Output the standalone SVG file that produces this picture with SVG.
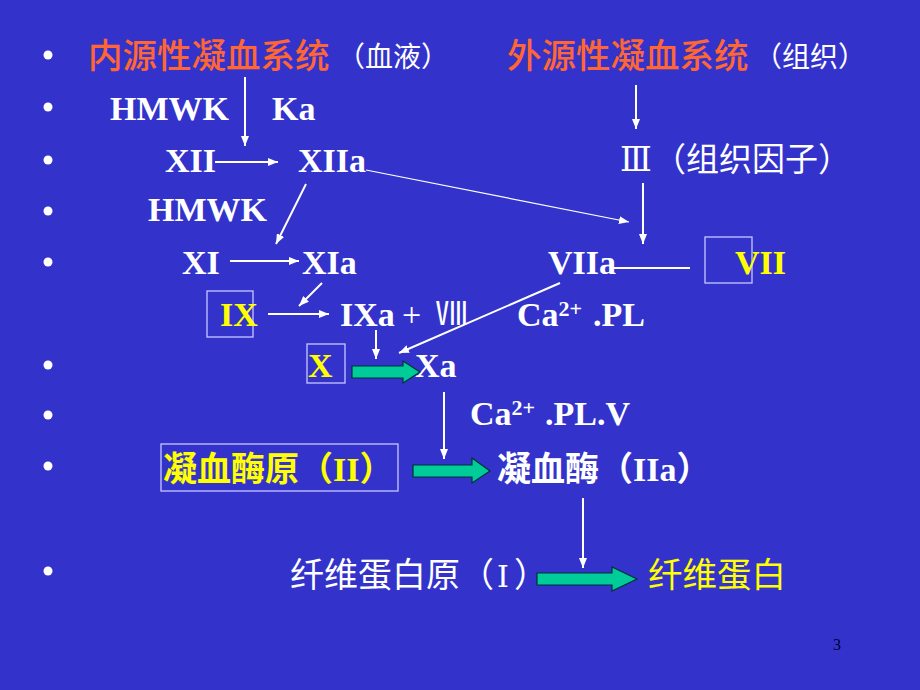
<svg xmlns="http://www.w3.org/2000/svg" width="920" height="690" viewBox="0 0 920 690">
<defs>
<marker id="ah" viewBox="0 0 10 8" refX="10" refY="4" markerWidth="10" markerHeight="8" markerUnits="userSpaceOnUse" orient="auto">
<path d="M0,0 L10,4 L0,8 Z" fill="#ffffff"/>
</marker>
<style>
.lat{font-family:"Liberation Serif","Times New Roman",serif;font-weight:bold;font-size:34px;fill:#ffffff}
.latr{font-family:"Liberation Serif","Times New Roman",serif;font-size:34px;fill:#ffffff}
.cjk{font-family:"Noto Sans CJK SC","Noto Sans",sans-serif;fill:#ffffff}
.org{fill:#ff6633}
.yel{fill:#ffff00}
.rn{font-family:"DejaVu Serif","Noto Sans CJK SC",serif;fill:#ffffff}
.ln{stroke:#ffffff;stroke-width:2;fill:none}
.thin{stroke:#ffffff;stroke-width:1.2;fill:none}
.box{fill:none;stroke:#c8c8ff;stroke-width:1.3}
.garr{fill:#00cc99;stroke:#003333;stroke-width:1.2}
.bul{fill:#ffffff}
</style>
</defs>
<rect width="920" height="690" fill="#3333cc"/>

<g id="bullets">
<circle class="bul" cx="48" cy="55" r="4.5"/>
<circle class="bul" cx="48" cy="107" r="4.5"/>
<circle class="bul" cx="48" cy="160" r="4.5"/>
<circle class="bul" cx="48" cy="211" r="4.5"/>
<circle class="bul" cx="48" cy="262" r="4.5"/>
<circle class="bul" cx="48" cy="365" r="4.5"/>
<circle class="bul" cx="48" cy="415" r="4.5"/>
<circle class="bul" cx="48" cy="466" r="4.5"/>
<circle class="bul" cx="48" cy="571" r="4.5"/>
</g>

<g id="intrinsic">
<text class="cjk org" x="88" y="68" font-size="34.5" font-weight="500">内源性凝血系统</text>
<text class="cjk" x="337" y="67" font-size="28">（血液）</text>
</g>
<g id="extrinsic">
<text class="cjk org" x="507" y="68" font-size="34.5" font-weight="500">外源性凝血系统</text>
<text class="cjk" x="754" y="67" font-size="28">（组织）</text>
</g>

<g id="hmwk1"><text class="lat" x="110" y="120">HMWK</text></g>
<g id="ka"><text class="lat" x="272" y="120">Ka</text></g>
<g id="xii"><text class="lat" x="165" y="172">XII</text></g>
<g id="xiia"><text class="lat" x="298" y="172">XIIa</text></g>
<g id="tf"><text class="rn" x="620" y="171" font-size="33">Ⅲ</text><text class="cjk" x="653" y="171" font-size="33">（组织因子）</text></g>
<g id="hmwk2"><text class="lat" x="148" y="221">HMWK</text></g>
<g id="xi"><text class="lat" x="182" y="274">XI</text></g>
<g id="xia"><text class="lat" x="302" y="274">XIa</text></g>
<g id="viia"><text class="lat" x="548" y="274">VIIa</text></g>
<g id="vii"><rect class="box" x="705" y="237" width="47" height="46"/><text class="lat yel" x="735" y="274">VII</text></g>
<g id="ix"><rect class="box" x="207" y="291" width="46" height="46"/><text class="lat yel" x="220" y="326">IX</text></g>
<g id="ixa"><text class="lat" x="340" y="326">IXa</text><text class="latr" x="402" y="326">+</text><text class="cjk" x="436" y="325" font-size="32">Ⅷ</text></g>
<g id="capl1"><text class="lat" x="517" y="326">Ca<tspan font-size="22" dy="-10">2+</tspan><tspan x="593" dy="10">.PL</tspan></text></g>
<g id="x"><rect class="box" x="307" y="344" width="38" height="39"/><text class="lat yel" x="308" y="377">X</text></g>
<g id="xa"><text class="lat" x="415" y="377">Xa</text></g>
<g id="capl2"><text class="lat" x="470" y="425">Ca<tspan font-size="22" dy="-10">2+</tspan><tspan x="545" dy="10">.PL.V</tspan></text></g>
<g id="prothrombin"><rect class="box" x="161" y="444" width="237" height="47"/><text class="cjk yel" x="163" y="481" font-size="34" font-weight="bold">凝血酶原（<tspan class="lat yel">II</tspan>）</text></g>
<g id="thrombin"><text class="cjk" x="497" y="481" font-size="34" font-weight="bold">凝血酶（<tspan class="lat">IIa</tspan>）</text></g>
<g id="fibrinogen"><text class="cjk" x="290" y="587" font-size="34">纤维蛋白原<tspan x="460">（</tspan><tspan class="rn" x="497" font-size="30">Ⅰ</tspan><tspan x="514">）</tspan></text></g>
<g id="fibrin"><text class="cjk yel" x="648" y="587" font-size="34.5">纤维蛋白</text></g>
<g id="page"><text x="833" y="650" font-family="Liberation Serif, serif" font-size="16" fill="#000033">3</text></g>

<g id="connectors">
<line class="ln" x1="245" y1="77" x2="245" y2="146" marker-end="url(#ah)"/>
<line class="ln" x1="215" y1="162" x2="278" y2="162" marker-end="url(#ah)"/>
<line class="thin" x1="366" y1="170" x2="629" y2="222" marker-end="url(#ah)"/>
<line class="ln" x1="636" y1="85" x2="636" y2="129" marker-end="url(#ah)"/>
<line class="ln" x1="643" y1="183" x2="643" y2="244" marker-end="url(#ah)"/>
<line class="ln" x1="306" y1="184" x2="276" y2="244" marker-end="url(#ah)"/>
<line class="ln" x1="230" y1="261" x2="299" y2="261" marker-end="url(#ah)"/>
<line class="ln" x1="613" y1="268" x2="690" y2="268"/>
<line class="ln" x1="322" y1="283" x2="299" y2="306" marker-end="url(#ah)"/>
<line class="ln" x1="268" y1="314" x2="329" y2="314" marker-end="url(#ah)"/>
<line class="ln" x1="376" y1="330" x2="376" y2="359" marker-end="url(#ah)"/>
<line class="ln" x1="560" y1="283" x2="399" y2="353" marker-end="url(#ah)"/>
<polygon class="garr" points="352,366 403,366 403,361 420,372 403,383 403,378 352,378"/>
<line class="ln" x1="444" y1="392" x2="444" y2="459" marker-end="url(#ah)"/>
<polygon class="garr" points="413,465 472,465 472,458 490,471 472,483 472,477 413,477"/>
<line class="ln" x1="583" y1="498" x2="583" y2="568" marker-end="url(#ah)"/>
<polygon class="garr" points="537,573 612,573 612,567 637,579 612,591 612,585 537,585"/>
</g>
</svg>
